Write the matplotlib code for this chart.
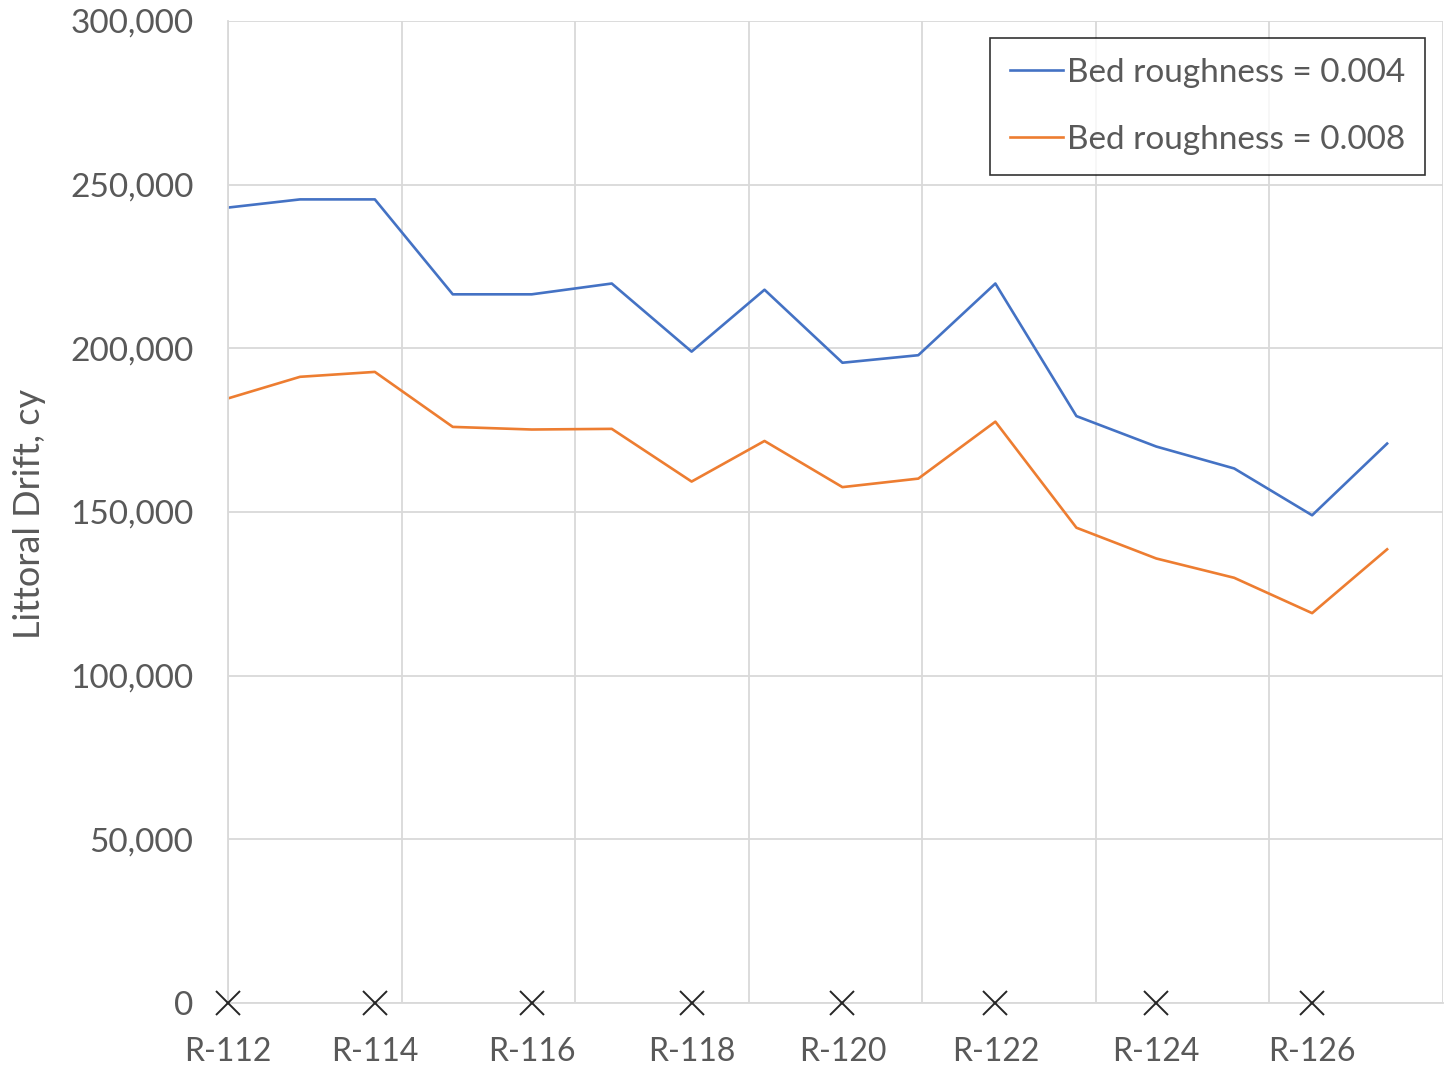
import matplotlib.pyplot as plt
from matplotlib.ticker import FuncFormatter, MultipleLocator

# distance along shore (ft) for each profile line
dist = [0, 415, 846, 1295, 1750, 2211, 2671, 3091, 3540, 3977, 4421, 4888, 5348, 5797, 6246, 6678]
drift_004 = [243000, 245500, 245500, 216500, 216500, 219800, 199000, 217900, 195600, 197900,
             219800, 179300, 170000, 163300, 149000, 170900]
drift_008 = [184700, 191300, 192800, 176000, 175200, 175400, 159300, 171700, 157600, 160200,
             177600, 145200, 135800, 129900, 119100, 138600]

# monuments marked along the axis
mon_dist = [0, 846, 1750, 2671, 3540, 4421, 5348, 6246]
mon_names = ['R-112', 'R-114', 'R-116', 'R-118', 'R-120', 'R-122', 'R-124', 'R-126']

plt.rcParams['font.family'] = ['Lato', 'DejaVu Sans']
txt = '#595959'
grid = '#d9d9d9'

fig = plt.figure(figsize=(14.45, 10.67), dpi=100)
ax = fig.add_axes([228 / 1445, 1 - 1003 / 1067, 1215 / 1445, 982 / 1067])

ax.plot(dist, drift_004, color='#4472C4', lw=1.9, label='Bed roughness = 0.004')
ax.plot(dist, drift_008, color='#ED7D31', lw=1.9, label='Bed roughness = 0.008')
ax.plot(mon_dist, [0] * len(mon_dist), ls='none', marker='x', ms=17, mew=1.4,
        color='#262626', clip_on=False, zorder=5)
for x, name in zip(mon_dist, mon_names):
    ax.annotate(name, xy=(x, 0), xytext=(0, -35), textcoords='offset points',
                ha='center', va='center', fontsize=23, color=txt, annotation_clip=False)

ax.set_xlim(0, 7000)
ax.set_ylim(0, 300000)
ax.xaxis.set_major_locator(MultipleLocator(1000))
ax.yaxis.set_major_locator(MultipleLocator(50000))
ax.yaxis.set_major_formatter(FuncFormatter(lambda v, p: f'{v:,.0f}'))
ax.tick_params(axis='x', length=0, labelbottom=False)
ax.tick_params(axis='y', length=0, pad=25, labelsize=24, labelcolor=txt)
ax.grid(True, color=grid, lw=1.3)
ax.set_axisbelow(True)
for s in ['top', 'right']:
    ax.spines[s].set_visible(False)
for s in ['left', 'bottom']:
    ax.spines[s].set_color(grid)
    ax.spines[s].set_linewidth(1.3)

fig.text(30 / 1445, 1 - 514 / 1067, 'Littoral Drift, cy', rotation=90, ha='center', va='center',
         fontsize=26, color=txt)

leg = ax.legend(loc='upper right', bbox_to_anchor=(1425 / 1445, 1 - 38 / 1067),
                bbox_transform=fig.transFigure, fontsize=24, frameon=True, fancybox=False,
                edgecolor='black', handlelength=1.6, handletextpad=0.1, labelspacing=1.1,
                borderpad=0.6, borderaxespad=0)
leg.get_frame().set_linewidth(1.2)
for t in leg.get_texts():
    t.set_color(txt)

fig.savefig('out.png', dpi=100, facecolor='white')
